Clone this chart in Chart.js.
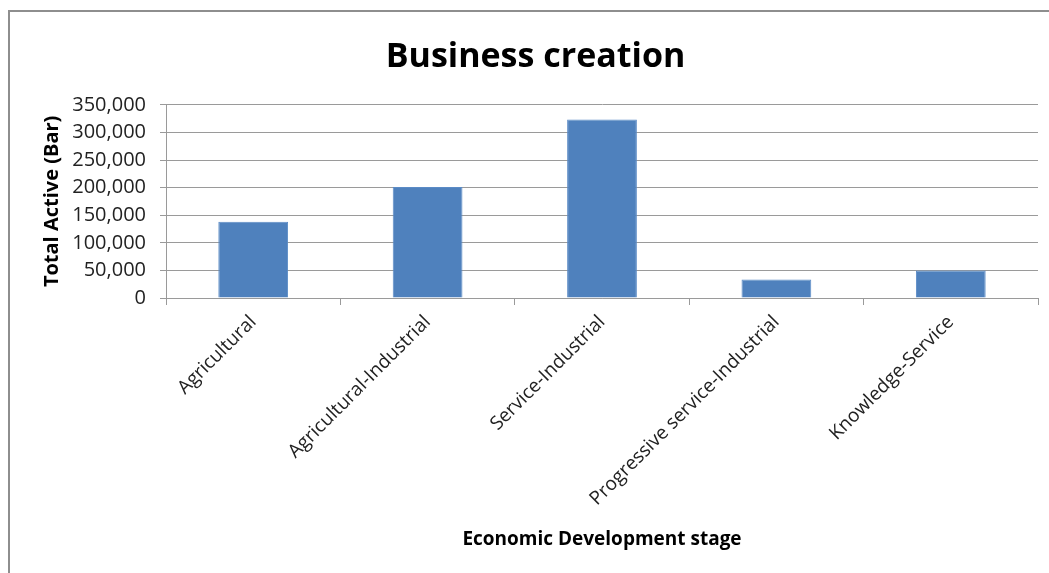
<!DOCTYPE html>
<html lang="en">
<head>
  <meta charset="UTF-8" />
  <title>Business creation</title>
  <style>
    body {
      margin: 0;
      padding: 0;
      background: #fff;
      overflow: hidden;
    }

    #frame {
      position: absolute;
      left: 8px;
      top: 10px;
      width: 1100px;
      height: 600px;
      border-left: 2px solid #8e8e8e;
      border-top: 2px solid #8e8e8e;
    }

    #chart {
      position: absolute;
      left: 0;
      top: 0;
    }
  </style>
</head>
<body>
  <div id="frame"></div>
  <canvas id="chart" width="1049" height="573"></canvas>

  <script src="https://cdn.jsdelivr.net/npm/chart.js"></script>
  <script>
    const stages = ["Agricultural", "Agricultural-Industrial", "Service-Industrial", "Progressive service-Industrial", "Knowledge-Service"];
    const totalActive = [138000, 201000, 323500, 33500, 50000];
    const yTicks = [0, 50000, 100000, 150000, 200000, 250000, 300000, 350000];

    const font = "'Open Sans', 'Noto Sans', sans-serif";
    const gray = "#9a9a9a";

    new Chart(document.getElementById("chart"), {
      type: "bar",
      data: {
        labels: stages,
        datasets: [{
          data: totalActive,
          backgroundColor: "#4f81bd",
          borderColor: "#5b8bc6",
          borderWidth: 1,
          categoryPercentage: 1,
          barPercentage: 0.4
        }]
      },
      options: {
        responsive: false,
        animation: false,
        devicePixelRatio: 1,
        layout: { padding: { left: 33, right: 11, top: 0, bottom: 0 } },
        plugins: {
          legend: { display: false },
          tooltip: { enabled: false },
          title: {
            display: true,
            text: "Business creation",
            color: "#000",
            font: { family: font, size: 34, weight: "bold" },
            padding: { top: 37, bottom: 27 }
          }
        },
        scales: {
          x: {
            grid: {
              offset: true,
              drawOnChartArea: false,
              drawTicks: true,
              tickLength: 7,
              color: gray
            },
            border: { color: gray, width: 1 },
            ticks: {
              color: "#222",
              minRotation: 45,
              maxRotation: 45,
              padding: 6,
              font: { family: font, size: 19 }
            },
            title: {
              display: true,
              text: "Economic Development stage",
              color: "#000",
              font: { family: font, size: 19, weight: "bold" },
              padding: { top: 0, bottom: 22 }
            },
            afterFit: (scale) => { scale.height = 275; }
          },
          y: {
            min: 0,
            max: 350000,
            afterBuildTicks: (scale) => { scale.ticks = yTicks.map(v => ({ value: v })); },
            grid: { color: gray, lineWidth: 1, tickLength: 6 },
            border: { color: gray, width: 1 },
            ticks: {
              color: "#222",
              padding: 14,
              font: { family: font, size: 20 },
              callback: (v) => v.toLocaleString("en-US")
            },
            title: {
              display: true,
              text: "Total Active (Bar)",
              color: "#000",
              font: { family: font, size: 20, weight: "bold" },
              padding: { top: 7, bottom: 0 }
            },
            afterFit: (scale) => { scale.width = 133; }
          }
        }
      }
    });
  </script>
</body>
</html>
